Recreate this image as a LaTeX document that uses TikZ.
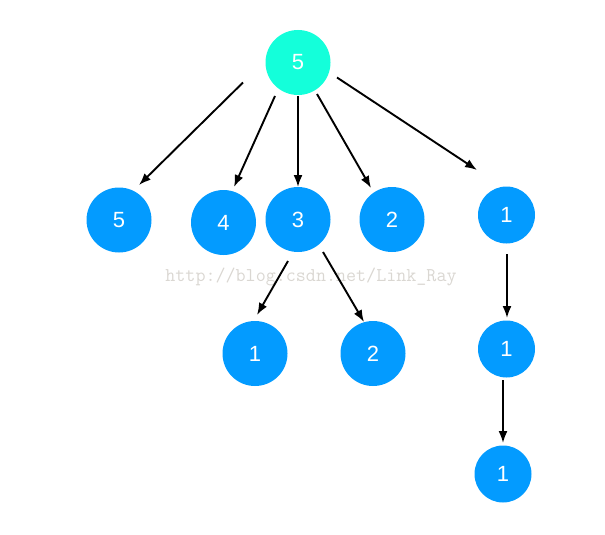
\documentclass[tikz,border=0pt]{standalone}
\usepackage{fontspec}
\setmainfont{Liberation Sans}
\usetikzlibrary{arrows.meta,calc}
\definecolor{nodeblue}{RGB}{3,155,255}
\definecolor{rootcyan}{RGB}{20,255,218}
\definecolor{wmgray}{RGB}{218,215,210}
\begin{document}
\begin{tikzpicture}[x=1pt,y=-1pt,
  vtx/.style={circle,fill=nodeblue,draw=none,inner sep=0pt,text=white,
    font=\fontsize{22}{22}\selectfont},
  big/.style={vtx,minimum size=65pt},
  small/.style={vtx,minimum size=57pt},
  arr/.style={-{Latex[length=12pt,width=9pt]},line width=1.9pt,black}]
\useasboundingbox (0,0) rectangle (605,535);
\node[big,fill=rootcyan] (top) at (298,62.5) {5};
\node[big] (a) at (119,220) {5};
\node[big] (b) at (223.5,222.5) {4};
\node[big] (c) at (298,219.5) {3};
\node[big] (d) at (392,219.5) {2};
\node[small] (e) at (506.5,215) {1};
\node[big] (f) at (255,353.5) {1};
\node[big] (g) at (373,353.5) {2};
\node[small] (h) at (506.5,349) {1};
\node[small] (i) at (503,474) {1};
\node[text=wmgray,font=\ttfamily\fontsize{19.5}{19.5}\selectfont] (wm) at (311,277) {http://blog.csdn.net/Link\_Ray};
\draw[arr] ($(top)+(-55,20)$) -- ($(a)+(20,-35)$);
\draw[arr] ($(top)+(-23,33.5)$) -- ($(b)+(10.5,-35.5)$);
\draw[arr] ($(top)+(0,33.5)$) -- ($(c)+(0,-32.5)$);
\draw[arr] ($(top)+(19,31.5)$) -- ($(d)+(-21,-31.5)$);
\draw[arr] ($(top)+(39,15)$) -- ($(e)+(-29.5,-45)$);
\draw[arr] ($(c)+(-10,41.5)$) -- ($(f)+(2,-38.5)$);
\draw[arr] ($(c)+(25,32.5)$) -- ($(g)+(-9,-31.5)$);
\draw[arr] ($(e)+(0.5,39)$) -- ($(h)+(0.5,-31)$);
\draw[arr] ($(h)+(-3.5,31)$) -- ($(i)+(0,-31)$);
\end{tikzpicture}
\end{document}
